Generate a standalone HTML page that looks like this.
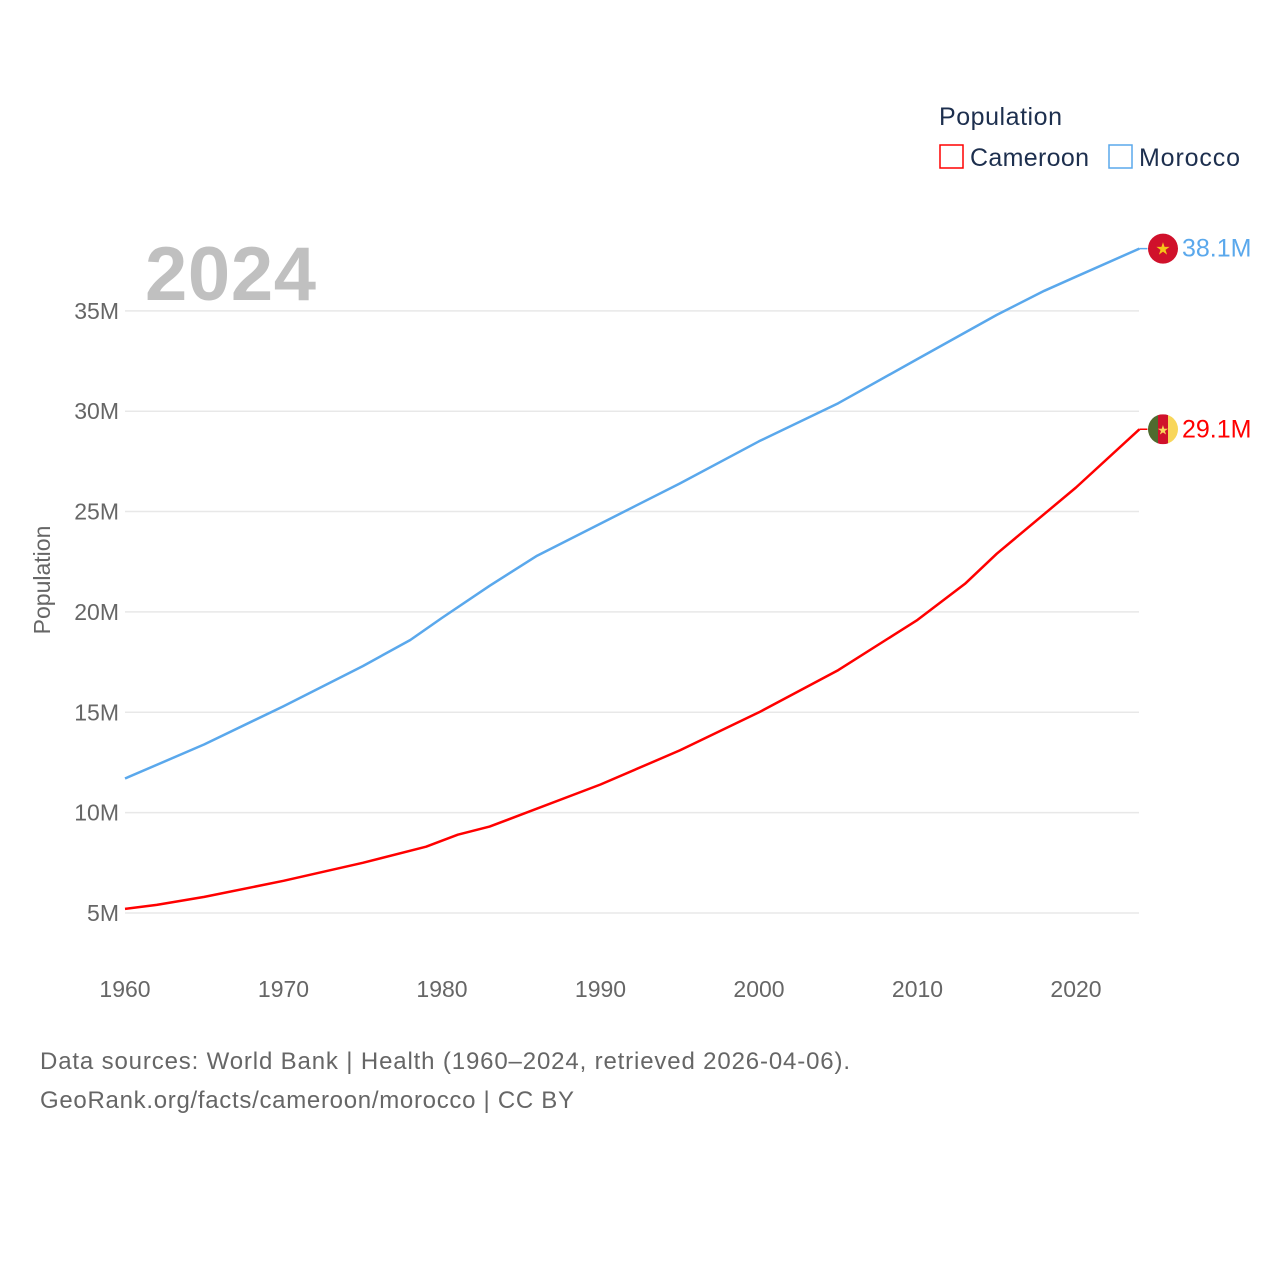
<!DOCTYPE html>
<html><head><meta charset="utf-8"><style>
body{margin:0;background:#fff;}
svg{display:block;font-family:"Liberation Sans",sans-serif;}
</style></head><body>
<svg id="chart" width="1280" height="1280" viewBox="0 0 1280 1280">
<text x="939" y="125" font-size="25" fill="#1d2f4e" textLength="123">Population</text>
<g><rect x="940" y="145" width="23" height="23" fill="none" stroke="#ff0000" stroke-width="1.5"/><text x="970" y="166" font-size="25" fill="#1d2f4e" textLength="119">Cameroon</text></g>
<g><rect x="1109" y="145" width="23" height="23" fill="none" stroke="#5aa8ec" stroke-width="1.5"/><text x="1139" y="166" font-size="25" fill="#1d2f4e" textLength="101">Morocco</text></g>
<text x="145" y="300" font-size="76" font-weight="bold" fill="#c0c0c0" textLength="171">2024</text>
<g id="grid"></g><g id="yt"></g><g id="xt"></g><g id="lines"></g>
<text transform="translate(50,580) rotate(-90)" text-anchor="middle" font-size="23" fill="#666">Population</text>
<text x="40" y="1069" font-size="24" fill="#666" textLength="810">Data sources: World Bank | Health (1960–2024, retrieved 2026-04-06).</text>
<text x="40" y="1108" font-size="24" fill="#666" textLength="534">GeoRank.org/facts/cameroon/morocco | CC BY</text>
</svg>
<script>
const yTicks=[5,10,15,20,25,30,35];
const xTicks=[1960,1970,1980,1990,2000,2010,2020];
const moroccoYears=[1960,1965,1970,1975,1978,1980,1983,1986,1990,1995,2000,2005,2010,2015,2018,2020,2024];
const moroccoVals=[11.7,13.4,15.3,17.3,18.6,19.7,21.3,22.8,24.4,26.4,28.5,30.4,32.6,34.8,36.0,36.7,38.1];
const cameroonYears=[1960,1962,1965,1970,1975,1979,1981,1983,1985,1990,1995,2000,2005,2010,2013,2015,2020,2024];
const cameroonVals=[5.2,5.4,5.8,6.6,7.5,8.3,8.9,9.3,9.9,11.4,13.1,15.0,17.1,19.6,21.4,22.9,26.2,29.1];
const NS="http://www.w3.org/2000/svg";
const X=yr=>125+(yr-1960)*15.85;
const Y=v=>1013.3-v*20.07;
function mk(t,a,p){const e=document.createElementNS(NS,t);for(const k in a)e.setAttribute(k,a[k]);p.appendChild(e);return e;}
const grid=document.getElementById('grid'),yt=document.getElementById('yt'),xt=document.getElementById('xt'),ln=document.getElementById('lines');
yTicks.forEach(v=>{
 const l=mk('line',{x1:125,x2:1139,y1:Y(v),y2:Y(v),stroke:'#e8e8e8','stroke-width':1.5},grid);
 
 
 const t=mk('text',{x:119,y:Y(v)+8,'text-anchor':'end','font-size':23,fill:'#666'},yt);t.textContent=v+'M';
 
 
});
xTicks.forEach(v=>{
 const t=mk('text',{x:X(v),y:997,'text-anchor':'middle','font-size':23,fill:'#666'},xt);t.textContent=v;
 
 
});
function series(years,vals,color,name,label){
 const d=years.map((y,i)=>(i?'L':'M')+X(y).toFixed(1)+','+Y(vals[i]).toFixed(1)).join(' ');
 const p=mk('path',{d:d,fill:'none',stroke:color,'stroke-width':2.5,'stroke-linejoin':'round'},ln);
 
 
 const lx=X(years[years.length-1]),ly=Y(vals[vals.length-1]);
 mk('line',{x1:lx,x2:lx+8,y1:ly,y2:ly,stroke:color,'stroke-width':1.5},ln);
 const t=mk('text',{x:1182,y:ly+8,'font-size':25,fill:color},ln);t.textContent=label;
 
 
 return ly;
}
const my=series(moroccoYears,moroccoVals,'#5aa8ec','morocco','38.1M');
const cy=series(cameroonYears,cameroonVals,'#ff0000','cameroon','29.1M');
const mf=mk('g',{},ln);


mk('circle',{cx:1163,cy:my,r:15,fill:'#d0112b'},mf);
const st=mk('text',{x:1163,y:my+6,'text-anchor':'middle','font-size':17,fill:'#f5c518'},mf);st.textContent='★';
const cf=mk('g',{},ln);


mk('clipPath',{id:'cc'},cf);
mk('circle',{cx:1163,cy:cy,r:15},document.getElementById('cc'));
const g2=mk('g',{'clip-path':'url(#cc)'},cf);
mk('rect',{x:1148,y:cy-15,width:10,height:30,fill:'#4f6b2f'},g2);
mk('rect',{x:1158,y:cy-15,width:10,height:30,fill:'#d0112b'},g2);
mk('rect',{x:1168,y:cy-15,width:10,height:30,fill:'#f8d65a'},g2);
const s2=mk('text',{x:1163,y:cy+5,'text-anchor':'middle','font-size':13,fill:'#f8d65a'},cf);s2.textContent='★';
</script>
</body></html>
